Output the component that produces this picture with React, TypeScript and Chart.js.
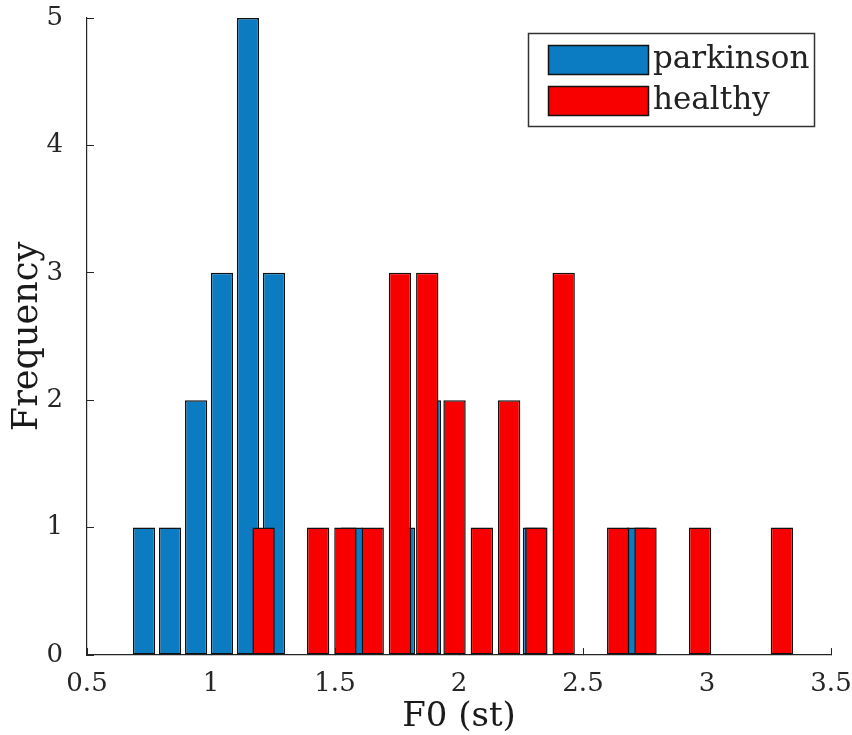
import React, { useEffect, useRef } from "react";
import { Chart, registerables } from "chart.js";

Chart.register(...registerables);

// Histogram bin centres (x) and counts (y)
const parkinsonBinCenters = [0.730, 0.835, 0.940, 1.044, 1.149, 1.254, 1.359, 1.464, 1.568, 1.673, 1.778, 1.883, 1.988, 2.092, 2.197, 2.302, 2.407, 2.512, 2.616, 2.721];
const parkinsonCounts = [1, 1, 2, 3, 5, 3, 0, 0, 1, 0, 1, 2, 0, 0, 0, 1, 0, 0, 0, 1];
const healthyBinCenters = [1.212, 1.322, 1.432, 1.542, 1.652, 1.762, 1.872, 1.982, 2.092, 2.202, 2.312, 2.422, 2.532, 2.642, 2.752, 2.862, 2.972, 3.082, 3.192, 3.302];
const healthyCounts = [1, 0, 1, 1, 1, 3, 3, 2, 1, 2, 1, 3, 0, 1, 1, 0, 1, 0, 0, 1];
const seriesLabels = ["parkinson", "healthy"];
const xTickValues = [0.5, 1, 1.5, 2, 2.5, 3, 3.5];
const yTickValues = [0, 1, 2, 3, 4, 5];
const xTitle = "F0 (st)";
const yTitle = "Frequency";

const FONT = '"DejaVu Serif", "Liberation Serif", serif';
const INK = "#262626";

const boxLegend = {
  id: "boxLegend",
  afterDraw(chart: any) {
    const { ctx, chartArea } = chart;
    const x0 = chartArea.right - 303;
    const y0 = chartArea.top + 15;
    const w = 286;
    const h = 93;
    ctx.save();
    ctx.fillStyle = "#ffffff";
    ctx.fillRect(x0, y0, w, h);
    ctx.strokeStyle = "#333333";
    ctx.lineWidth = 1.5;
    ctx.strokeRect(x0 + 0.5, y0 + 0.5, w, h);
    chart.data.datasets.forEach((ds: any, i: number) => {
      const sy = y0 + 12 + i * 41;
      ctx.fillStyle = ds.backgroundColor;
      ctx.fillRect(x0 + 20, sy, 100, 29);
      ctx.strokeStyle = "#111111";
      ctx.lineWidth = 1.5;
      ctx.strokeRect(x0 + 20.5, sy + 0.5, 100, 29);
      ctx.fillStyle = "#222222";
      ctx.font = `31px ${FONT}`;
      ctx.textBaseline = "middle";
      ctx.textAlign = "left";
      ctx.fillText(ds.label, x0 + 125, sy + 15);
    });
    ctx.restore();
  },
};

export default function App() {
  const ref = useRef<HTMLCanvasElement | null>(null);

  useEffect(() => {
    if (!ref.current) return;
    const chart = new Chart(ref.current, {
      type: "bar",
      data: {
        datasets: [
          {
            label: seriesLabels[0],
            data: parkinsonBinCenters.map((x, i) => ({ x, y: parkinsonCounts[i] })),
            backgroundColor: "#0b7cc2",
            borderColor: "#111111",
            borderWidth: 1.5,
            borderSkipped: false,
            barPercentage: 0.86,
            categoryPercentage: 1,
            grouped: false,
            xAxisID: "x2",
            order: 1,
          },
          {
            label: seriesLabels[1],
            data: healthyBinCenters.map((x, i) => ({ x, y: healthyCounts[i] })),
            backgroundColor: "#f80000",
            borderColor: "#111111",
            borderWidth: 1.5,
            borderSkipped: false,
            barPercentage: 0.82,
            categoryPercentage: 1,
            grouped: false,
            xAxisID: "x",
            order: 0,
          },
        ],
      },
      options: {
        responsive: false,
        animation: false,
        layout: { padding: { left: 0, right: 21, top: 18, bottom: 0 } },
        plugins: {
          legend: { display: false },
          tooltip: { enabled: false },
        },
        scales: {
          x: {
            type: "linear",
            position: "bottom",
            min: 0.5,
            max: 3.5,
            offset: false,
            afterFit: (s: any) => {
              s.height = 80;
              s.paddingLeft = 0;
              s.paddingRight = 0;
              s.paddingTop = 0;
              s.paddingBottom = 0;
            },
            afterBuildTicks: (s: any) => {
              s.ticks = xTickValues.map((v) => ({ value: v }));
            },
            ticks: {
              color: INK,
              padding: 21,
              font: { family: FONT, size: 26 },
              maxRotation: 0,
              autoSkip: false,
              callback: (v: any) => String(v),
            },
            grid: {
              offset: false,
              drawOnChartArea: false,
              drawTicks: true,
              tickLength: -7,
              color: INK,
            },
            border: { display: true, color: INK, width: 1.2 },
            title: {
              display: true,
              text: xTitle,
              color: "#1a1a1a",
              font: { family: FONT, size: 34, lineHeight: 1 },
              padding: { top: 0, bottom: 1 },
            },
          },
          x2: {
            type: "linear",
            display: false,
            min: 0.5,
            max: 3.5,
            offset: false,
            grid: { offset: false },
          },
          y: {
            type: "linear",
            min: 0,
            max: 5,
            afterFit: (s: any) => {
              s.width = 87;
              s.paddingLeft = 0;
              s.paddingRight = 0;
              s.paddingTop = 0;
              s.paddingBottom = 0;
            },
            afterBuildTicks: (s: any) => {
              s.ticks = yTickValues.map((v) => ({ value: v }));
            },
            ticks: {
              color: INK,
              padding: 31,
              font: { family: FONT, size: 26 },
              callback: (v: any) => String(v),
            },
            grid: {
              drawOnChartArea: false,
              drawTicks: true,
              tickLength: -7,
              color: INK,
            },
            border: { display: true, color: INK, width: 1.2 },
            title: {
              display: true,
              text: yTitle,
              color: "#1a1a1a",
              font: { family: FONT, size: 35, lineHeight: 1 },
              padding: { top: 10, bottom: 0 },
            },
          },
        },
      },
      plugins: [boxLegend],
    } as any);
    return () => chart.destroy();
  }, []);

  return (
    <div style={{ position: "fixed", left: 0, top: 0, width: 852, height: 735, background: "#ffffff" }}>
      <canvas ref={ref} width={852} height={735} style={{ display: "block" }} />
    </div>
  );
}
